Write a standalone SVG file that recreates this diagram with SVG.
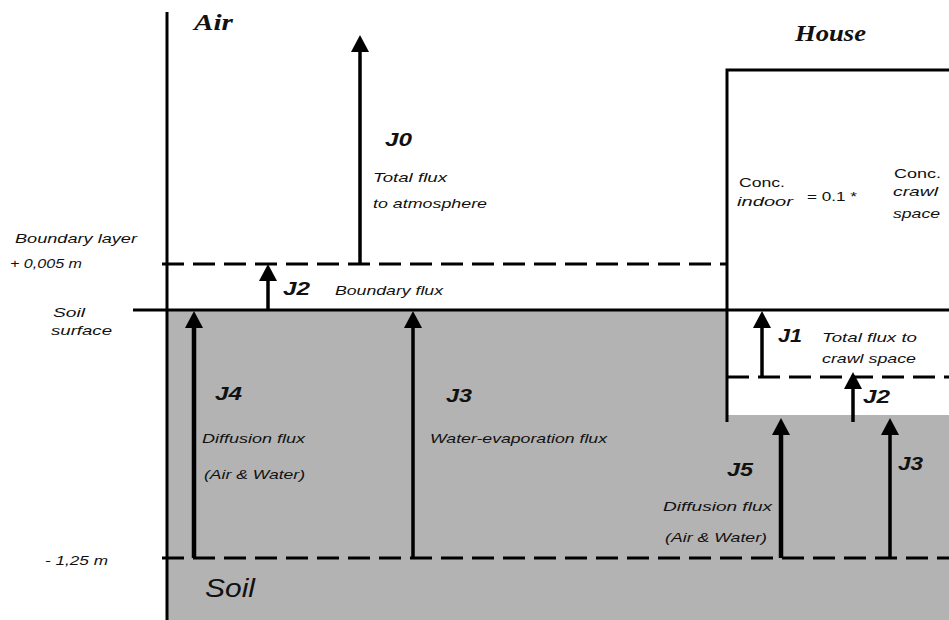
<svg xmlns="http://www.w3.org/2000/svg" width="949" height="620" viewBox="0 0 949 620">
<defs>
<style>
.ln{stroke:#000;stroke-width:3;fill:none}
.dash{stroke:#000;stroke-width:3;fill:none;stroke-dasharray:22 9}
.ar{stroke:#000;stroke-width:3.5;fill:none;marker-end:url(#head)}
.arw{stroke:#000;stroke-width:4.5;fill:none;marker-end:url(#head)}
.t{font-family:"Liberation Sans",Arial,sans-serif;font-style:italic;font-size:13px;fill:#111}
.tu{font-family:"Liberation Sans",Arial,sans-serif;font-size:13px;fill:#111}
.j{font-family:"Liberation Sans",Arial,sans-serif;font-style:italic;font-weight:bold;font-size:18px;fill:#111}
.big{font-family:"Liberation Serif","Times New Roman",serif;font-style:italic;font-weight:bold;font-size:24px;fill:#111}
.soil{font-family:"Liberation Sans",Arial,sans-serif;font-style:italic;font-size:26px;fill:#111}
</style>
<marker id="head" viewBox="0 -9 17 18" refX="8" refY="0" markerWidth="17" markerHeight="18" markerUnits="userSpaceOnUse" orient="auto">
<path d="M0,-9 L17,0 L0,9 z" fill="#000"/>
</marker>
</defs>
<rect width="949" height="620" fill="#fff"/>
<g id="soil-region">
<polygon points="167,310 727,310 727,415 949,415 949,620 167,620" fill="#b3b3b3"/>
</g>
<g id="structure">
<line class="ln" x1="167" y1="12" x2="167" y2="620"/>
<line class="ln" x1="133" y1="310" x2="949" y2="310"/>
<line class="dash" x1="162" y1="264" x2="726" y2="264"/>
<line class="dash" x1="162" y1="558" x2="949" y2="558"/>
<g id="house">
<polyline class="ln" points="727,422 727,70 949,70"/>
<line class="dash" x1="727" y1="377" x2="949" y2="377"/>
</g>
</g>
<g id="connectors">
<line id="J0" class="ar" x1="360" y1="264" x2="360" y2="44"/>
<line id="J2a" class="ar" x1="268" y1="310" x2="268" y2="273"/>
<line id="J4" class="arw" x1="194" y1="558" x2="194" y2="320"/>
<line id="J3a" class="ar" x1="413" y1="558" x2="413" y2="320"/>
<line id="J1" class="ar" x1="762" y1="377" x2="762" y2="320"/>
<line id="J2b" class="ar" x1="853" y1="422" x2="853" y2="381"/>
<line id="J5" class="arw" x1="781" y1="558" x2="781" y2="427"/>
<line id="J3b" class="ar" x1="890" y1="558" x2="890" y2="427"/>
</g>
<g id="labels">
<text class="big" x="194" y="30" textLength="39" lengthAdjust="spacingAndGlyphs">Air</text>
<text class="big" x="795" y="41" textLength="71" lengthAdjust="spacingAndGlyphs">House</text>
<text class="j" x="385" y="146" textLength="27" lengthAdjust="spacingAndGlyphs">J0</text>
<text class="t" x="373" y="182" textLength="74" lengthAdjust="spacingAndGlyphs">Total flux</text>
<text class="t" x="373" y="208" textLength="114" lengthAdjust="spacingAndGlyphs">to atmosphere</text>
<text class="t" x="15" y="243" textLength="122" lengthAdjust="spacingAndGlyphs">Boundary layer</text>
<text class="t" x="10" y="268" textLength="72" lengthAdjust="spacingAndGlyphs">+ 0,005 m</text>
<text class="t" x="53" y="317" textLength="32" lengthAdjust="spacingAndGlyphs">Soil</text>
<text class="t" x="51" y="335" textLength="61" lengthAdjust="spacingAndGlyphs">surface</text>
<text class="j" x="283" y="295" textLength="27" lengthAdjust="spacingAndGlyphs">J2</text>
<text class="t" x="335" y="295" textLength="108" lengthAdjust="spacingAndGlyphs">Boundary flux</text>
<text class="j" x="215" y="400" textLength="27" lengthAdjust="spacingAndGlyphs">J4</text>
<text class="t" x="202" y="443" textLength="103" lengthAdjust="spacingAndGlyphs">Diffusion flux</text>
<text class="t" x="204" y="479" textLength="101" lengthAdjust="spacingAndGlyphs">(Air &amp; Water)</text>
<text class="j" x="446" y="402" textLength="26" lengthAdjust="spacingAndGlyphs">J3</text>
<text class="t" x="430" y="443" textLength="177" lengthAdjust="spacingAndGlyphs">Water-evaporation flux</text>
<text class="tu" x="739" y="187" textLength="46" lengthAdjust="spacingAndGlyphs">Conc.</text>
<text class="t" x="737" y="206" textLength="56" lengthAdjust="spacingAndGlyphs">indoor</text>
<text class="tu" x="807" y="201" textLength="50" lengthAdjust="spacingAndGlyphs">= 0.1 *</text>
<text class="tu" x="894" y="178" textLength="47" lengthAdjust="spacingAndGlyphs">Conc.</text>
<text class="t" x="893" y="196" textLength="45" lengthAdjust="spacingAndGlyphs">crawl</text>
<text class="t" x="893" y="218" textLength="47" lengthAdjust="spacingAndGlyphs">space</text>
<text class="j" x="778" y="342" textLength="24" lengthAdjust="spacingAndGlyphs">J1</text>
<text class="t" x="822" y="342" textLength="95" lengthAdjust="spacingAndGlyphs">Total flux to</text>
<text class="t" x="822" y="363" textLength="94" lengthAdjust="spacingAndGlyphs">crawl space</text>
<text class="j" x="863" y="403" textLength="27" lengthAdjust="spacingAndGlyphs">J2</text>
<text class="j" x="727" y="476" textLength="26" lengthAdjust="spacingAndGlyphs">J5</text>
<text class="t" x="663" y="511" textLength="109" lengthAdjust="spacingAndGlyphs">Diffusion flux</text>
<text class="t" x="665" y="542" textLength="102" lengthAdjust="spacingAndGlyphs">(Air &amp; Water)</text>
<text class="j" x="898" y="470" textLength="25" lengthAdjust="spacingAndGlyphs">J3</text>
<text class="t" x="45" y="565" textLength="63" lengthAdjust="spacingAndGlyphs">- 1,25 m</text>
<text class="soil" x="205" y="597" textLength="50" lengthAdjust="spacingAndGlyphs">Soil</text>
</g>
</svg>
